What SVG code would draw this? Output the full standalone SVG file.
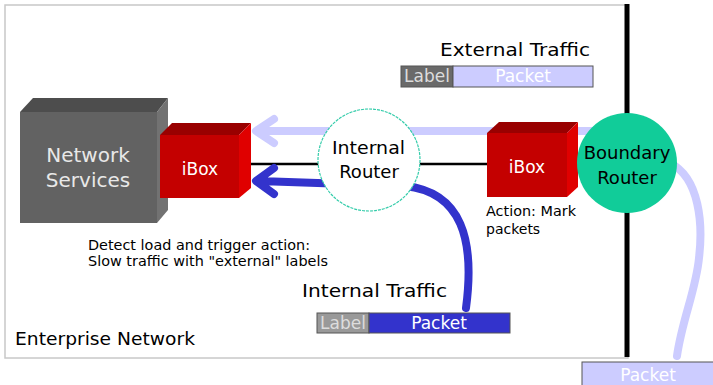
<svg xmlns="http://www.w3.org/2000/svg" width="713" height="385" viewBox="0 0 713 385">
<style>
text{font-family:"DejaVu Sans","Liberation Sans",sans-serif}
.lbl{fill:#000;font-size:14px}
.big{fill:#000;font-size:18px}
.wt{fill:#fff;font-size:17px;text-anchor:middle}
.arrL{fill:none;stroke:#ccccff;stroke-width:8;stroke-linecap:round;stroke-linejoin:round}
.arrB{fill:none;stroke:#3333cc;stroke-width:8;stroke-linecap:round;stroke-linejoin:round}
.pk{stroke:#555;stroke-width:1}
</style>
<rect width="713" height="385" fill="#fff"/>
<g id="enterprise">
<rect x="5" y="5" width="623" height="353" fill="#fff" stroke="#c8c8c8" stroke-width="1.5"/>
<text x="15" y="345" class="big" textLength="180" lengthAdjust="spacingAndGlyphs">Enterprise Network</text>
</g>
<g id="connectors">
<line x1="627" y1="4" x2="627" y2="357" stroke="#000" stroke-width="5"/>
<path class="arrL" d="M600,131 L258,131 M274,119 L256,131 L274,143"/>
<path class="arrL" d="M670,163 C700,178 703,225 699,258 C696,290 682,320 677,356"/>
<line x1="250" y1="164" x2="488" y2="164" stroke="#000" stroke-width="2.5"/>
<path class="arrB" d="M466,308 C475,240 462,192 405,186 L259,181 M274,168 L256,181 L274,194"/>
</g>
<g id="network-services">
<polygon points="20,112 33,98 168,98 157,112" fill="#4d4d4d"/>
<polygon points="157,112 168,98 168,210 157,223" fill="#727272"/>
<rect x="20" y="112" width="137" height="111" fill="#626262"/>
<text x="88" y="162" class="wt" style="fill:#e8e8e8;font-size:20px">Network</text>
<text x="88" y="187" class="wt" style="fill:#e8e8e8;font-size:20px">Services</text>
</g>
<g id="ibox-left">
<polygon points="160,135 172,123 251,123 239,135" fill="#990000"/>
<polygon points="239,135 251,123 251,188 239,198" fill="#e00000"/>
<rect x="160" y="135" width="79" height="63" fill="#c40000"/>
<text x="200" y="175" class="wt">iBox</text>
</g>
<g id="internal-router">
<circle cx="369" cy="160" r="51" fill="#fff" stroke="#33ccaa" stroke-width="1.2" stroke-dasharray="3,1"/>
<text x="332" y="154" class="big" textLength="73" lengthAdjust="spacingAndGlyphs">Internal</text>
<text x="369" y="178" class="big" text-anchor="middle">Router</text>
</g>
<g id="ibox-right">
<polygon points="487,133 499,122 578,122 567,133" fill="#990000"/>
<polygon points="567,133 578,122 578,187 567,197" fill="#e00000"/>
<rect x="487" y="133" width="80" height="64" fill="#c40000"/>
<text x="527" y="173" class="wt">iBox</text>
<text x="486" y="216" class="lbl" textLength="90" lengthAdjust="spacingAndGlyphs">Action: Mark</text>
<text x="486" y="234" class="lbl">packets</text>
</g>
<g id="boundary-router">
<circle cx="627" cy="163" r="50" fill="#11cc99"/>
<text x="627" y="159" class="big" text-anchor="middle">Boundary</text>
<text x="627" y="184" class="big" text-anchor="middle">Router</text>
</g>
<g id="external-traffic">
<text x="440" y="56" class="big" textLength="150" lengthAdjust="spacingAndGlyphs">External Traffic</text>
<rect x="401" y="66" width="52" height="21" fill="#6a6a6a" class="pk"/>
<rect x="453" y="66" width="140" height="21" fill="#ccccff" class="pk"/>
<text x="427" y="82" class="wt" style="fill:#dddddd;font-size:17px">Label</text>
<text x="523" y="82" class="wt" style="font-size:17px">Packet</text>
</g>
<g id="internal-traffic">
<text x="302" y="297" class="big" textLength="145" lengthAdjust="spacingAndGlyphs">Internal Traffic</text>
<rect x="317" y="313" width="52" height="20" fill="#999999" class="pk"/>
<rect x="369" y="313" width="141" height="20" fill="#3333cc" class="pk"/>
<text x="343" y="329" class="wt" style="fill:#dddddd;font-size:17px">Label</text>
<text x="439" y="329" class="wt" style="font-size:17px">Packet</text>
</g>
<g id="outside-packet">
<rect x="582" y="362" width="140" height="24" fill="#ccccff" class="pk"/>
<text x="648" y="381" class="wt" style="font-size:17px">Packet</text>
</g>
<g id="note">
<text x="88" y="250" class="lbl" textLength="222" lengthAdjust="spacingAndGlyphs">Detect load and trigger action:</text>
<text x="88" y="266" class="lbl" textLength="240" lengthAdjust="spacingAndGlyphs">Slow traffic with "external" labels</text>
</g>
</svg>
